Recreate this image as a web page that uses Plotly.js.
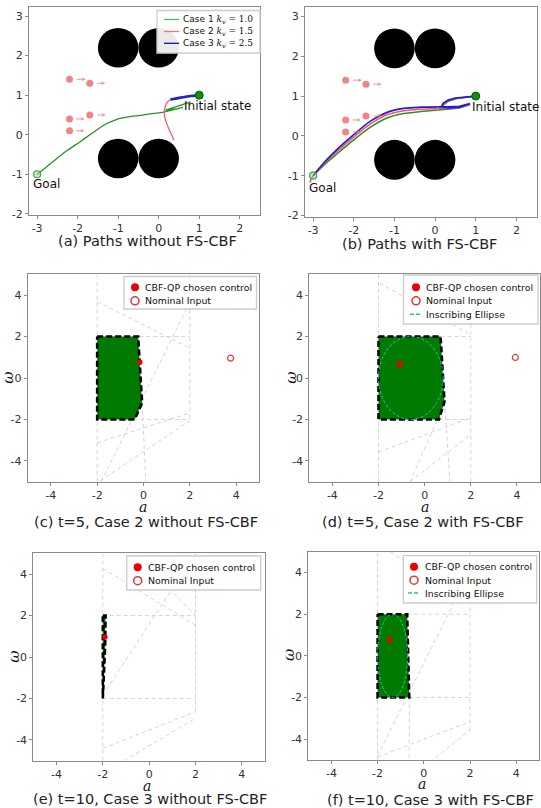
<!DOCTYPE html>
<html><head><meta charset="utf-8">
<script src="https://cdn.plot.ly/plotly-3.0.1.min.js"></script>
<style>html,body{margin:0;padding:0;background:#fff}#chart{width:541px;height:808px}</style>
</head><body><div id="chart"></div>
<script>
// ================= DATA =================
// static obstacles (a),(b)
const obstacleX = [-1, 0, -1, 0];
const obstacleY = [2.2, 2.2, -0.6, -0.6];
const obstacleR = [0.5, 0.5, 0.5, 0.5];
// moving obstacles with velocity arrows
const movingX = [-2.2, -1.7, -2.2, -1.7, -2.2];
const movingY = [1.4, 1.3, 0.4, 0.5, 0.1];
const arrowFromX = [-2.06, -1.56, -2.07, -1.55, -2.07];
const arrowToX = [-1.80, -1.32, -1.83, -1.31, -1.83];
const startX = [1.0], startY = [1.0];
const goalX = [-3.0], goalY = [-1.0];

// (a) paths without FS-CBF  (hook = manoeuvre near start, main = smooth run)
const a1HookX = [0.79, 0.48, 0.17, 0.42, 0.6, 0.38, 0.15];
const a1HookY = [0.83, 0.72, 0.62, 0.65, 0.69, 0.63, 0.58];
const a1MainX = [0.15, 0.0, -0.2, -0.45, -0.75, -1.03, -1.3, -1.6, -1.9, -2.26, -2.55, -2.8, -3.0];
const a1MainY = [0.58, 0.55, 0.53, 0.49, 0.45, 0.39, 0.27, 0.07, -0.15, -0.40, -0.63, -0.84, -1.0];
const a2X = [1.0, 0.8, 0.6, 0.42, 0.3, 0.22, 0.17, 0.14, 0.15, 0.21, 0.28, 0.34, 0.38];
const a2Y = [1.0, 0.99, 0.96, 0.92, 0.89, 0.83, 0.74, 0.6, 0.45, 0.25, 0.08, -0.05, -0.14];
const a3X = [1.0, 0.8, 0.6, 0.45, 0.29];
const a3Y = [1.0, 0.98, 0.95, 0.92, 0.89];

// (b) paths with FS-CBF
const b1HookX = [1.0, 0.75, 0.5, 0.33, 0.22, 0.17, 0.35, 0.6, 0.86, 0.6, 0.3, 0.06];
const b1HookY = [1.0, 0.97, 0.93, 0.87, 0.79, 0.71, 0.68, 0.7, 0.79, 0.7, 0.67, 0.65];
const b1MainX = [0.06, -0.35, -0.77, -1.18, -1.59, -2.0, -2.41, -2.74, -3.0];
const b1MainY = [0.65, 0.61, 0.56, 0.45, 0.22, -0.1, -0.45, -0.74, -1.0];
const b2HookX = [1.0, 0.75, 0.5, 0.32, 0.21, 0.16, 0.35, 0.6, 0.86, 0.6, 0.3, 0.06];
const b2HookY = [1.0, 0.97, 0.94, 0.88, 0.8, 0.72, 0.69, 0.71, 0.8, 0.72, 0.7, 0.69];
const b2MainX = [0.06, -0.35, -0.77, -1.18, -1.59, -2.0, -2.41, -2.74, -3.0, -3.05, -3.08];
const b2MainY = [0.69, 0.67, 0.63, 0.53, 0.3, -0.03, -0.39, -0.71, -1.0, -1.1, -1.17];
const b3HookX = [1.0, 0.75, 0.5, 0.32, 0.2, 0.15, 0.35, 0.6, 0.86, 0.6, 0.3, 0.06];
const b3HookY = [1.0, 0.98, 0.95, 0.9, 0.82, 0.73, 0.7, 0.72, 0.81, 0.74, 0.73, 0.73];
const b3MainX = [0.06, -0.35, -0.77, -1.18, -1.59, -2.0, -2.41, -2.74, -3.0];
const b3MainY = [0.73, 0.72, 0.69, 0.59, 0.37, 0.03, -0.34, -0.68, -1.0];

// (c)-(f) feasible control sets
const cPolyX = [-2, -0.23, -0.06, -0.38, -2, -2];
const cPolyY = [2, 2, -1.2, -2, -2, 2];
const dPolyX = [-2, 0.69, 0.86, 0.62, -2, -2];
const dPolyY = [2, 2, -1.15, -2, -2, 2];
const ePolyX = [-2, -1.88, -1.9, -1.96, -2, -2];
const ePolyY = [2, 2, 0.5, -1.6, -2, 2];
const fPolyX = [-2, -0.72, -0.63, -2, -2];
const fPolyY = [2, 2, -2, -2, 2];

// CBF-QP chosen control & nominal input [a, omega]
const cChosen = [-0.16, 0.76], cNominal = [3.76, 0.96];
const dChosen = [-1.08, 0.66], dNominal = [3.93, 0.99];
const eChosen = [-1.91, 0.97], eNominal = [6.5, 1.0];
const fChosen = [-1.48, 0.77], fNominal = [6.5, 1.0];

// inscribing ellipses: [centerA, centerW, semiA, semiW]
const dEllipse = [-0.6, 0.0, 1.4, 2.0];
const fEllipse = [-1.35, 0.0, 0.65, 2.0];

// constraint lines (segments separated by null)
const cLinesX = [-2, -2, null, 2, 2, null, -2, 2, null, -0.45, 2, null, -2, 2, null, -2, 2, null, -1.88, 2, null, -1.82, 1.84, null, -0.06, 0.1];
const cLinesY = [-5, 5, null, 5, -2.1, null, 2, 2, null, -2, -2, null, 3.68, 1.44, null, -3.13, -1.68, null, -4.96, -2.06, null, -5, 3.3, null, -1.2, -5];
const dLinesX = [-2, -2, null, 2, 2, null, 0.69, 2, null, 0.62, 2, null, -1.94, 2, null, -2, 2, null, 0.86, 1.1, null, -0.63, 0.55, null, -0.63, 2];
const dLinesY = [-5, 5, null, -5, 5, null, 2, 2, null, -2, -2, null, 4.57, 2.07, null, -3.57, -1.92, null, -1.15, -5, null, -5, -2.0, null, -5, -2.72];
const eLinesX = [-2, -2, null, 2, 2, null, -2, 2, null, -2, 2, null, -2, 2, null, -2, 1.0, null, 0.86, 2, null, -2, 2, null, -1.09, 2];
const eLinesY = [-5, 5, null, 5, -2.72, null, 2, 2, null, -2, -2, null, 4.27, 1.53, null, -1.84, 3.3, null, 3.3, 2.0, null, -4.41, -2.64, null, -5, -2.96];
const fLinesX = [-2, -2, null, 2, 2, null, -0.63, -0.63, null, -0.72, 2, null, -0.63, 2, null, -2, 1.6, null, -2, 2, null, 0.28, 2, null, -1.45, 2];
const fLinesY = [-5, 5, null, 5, -3.65, null, -2, -5, null, 2, 2, null, -2, -2, null, -4.8, 3.2, null, -4.85, -3.16, null, -5.1, -3.56, null, 5, 2.55];

// legend labels
const caseNames = ['Case 1', 'Case 2', 'Case 3'];
const caseKv = ['1.0', '1.5', '2.5'];
const ctrlNames = ['CBF-QP chosen control', 'Nominal Input', 'Inscribing Ellipse'];

// ================= STYLE =================
const W = 541, H = 808;
const FONT = 'DejaVu Sans, sans-serif';
const GREEN = 'rgb(40,145,40)', RED = 'rgb(255,80,105)', BLUE = 'rgb(30,30,215)';
const CYAN = 'rgb(30,195,195)';
const MOVCOL = 'rgba(240,110,110,0.85)';
const px2x = p => p / W, px2y = p => 1 - p / H;

function dom(l, r, t, b) { return { x: [px2x(l), px2x(r)], y: [px2y(b), px2y(t)] }; }
const doms = [
  dom(29, 260, 7, 215), dom(305, 536.7, 7.3, 216.7),
  dom(27.7, 259.3, 274.3, 481.7), dom(309.3, 540, 274.3, 481.7),
  dom(33.3, 265, 553.3, 760.7), dom(308.3, 539.3, 551.7, 760)
];

function axis(d, range, ticks, anchor) {
  return {
    domain: d, range: range, tickvals: ticks, ticktext: ticks.map(String),
    showgrid: false, zeroline: false, showline: true, mirror: true,
    linecolor: '#8a8a8a', linewidth: 1, ticks: 'outside', ticklen: 3, tickcolor: '#8a8a8a', tickwidth: 1,
    fixedrange: true, tickfont: { family: FONT, size: 11, color: '#333' }, anchor: anchor
  };
}

const traces = [];
const shapes = [];
const annotations = [];

function line(x, y, xa, ya, color, width, shape) {
  traces.push({ x: x, y: y, xaxis: xa, yaxis: ya, mode: 'lines', showlegend: false, hoverinfo: 'skip',
    line: { color: color, width: width, shape: shape || 'linear', smoothing: 0.8 } });
}

// ---- (a) and (b) ----
[['x', 'y'], ['x2', 'y2']].forEach(ax => {
  for (let i = 0; i < obstacleX.length; i++) {
    shapes.push({ type: 'circle', xref: ax[0], yref: ax[1], layer: 'below',
      x0: obstacleX[i] - obstacleR[i], x1: obstacleX[i] + obstacleR[i],
      y0: obstacleY[i] - obstacleR[i], y1: obstacleY[i] + obstacleR[i],
      fillcolor: '#000', line: { width: 0 } });
  }
  traces.push({ x: movingX, y: movingY, xaxis: ax[0], yaxis: ax[1], mode: 'markers', showlegend: false,
    marker: { color: MOVCOL, size: 7 }, hoverinfo: 'skip' });
  for (let i = 0; i < movingX.length; i++) {
    annotations.push({ xref: ax[0], yref: ax[1], axref: ax[0], ayref: ax[1],
      x: arrowToX[i], y: movingY[i], ax: arrowFromX[i], ay: movingY[i], text: '',
      showarrow: true, arrowhead: 2, arrowsize: 0.7, arrowwidth: 1, arrowcolor: 'rgba(240,110,110,0.7)' });
  }
});
// (a)
line(a1HookX, a1HookY, 'x', 'y', GREEN, 1.3);
line(a1MainX, a1MainY, 'x', 'y', GREEN, 1.3, 'spline');
line(a2X, a2Y, 'x', 'y', RED, 1.2, 'spline');
line(a3X, a3Y, 'x', 'y', BLUE, 2.6, 'spline');
// (b)
line(b1HookX, b1HookY, 'x2', 'y2', GREEN, 1.5);
line(b1MainX, b1MainY, 'x2', 'y2', GREEN, 1.5, 'spline');
line(b2HookX, b2HookY, 'x2', 'y2', RED, 1.5);
line(b2MainX, b2MainY, 'x2', 'y2', RED, 1.5, 'spline');
line(b3HookX, b3HookY, 'x2', 'y2', BLUE, 1.7);
line(b3MainX, b3MainY, 'x2', 'y2', BLUE, 1.7, 'spline');

[['x', 'y'], ['x2', 'y2']].forEach(ax => {
  traces.push({ x: startX, y: startY, xaxis: ax[0], yaxis: ax[1], mode: 'markers', showlegend: false,
    marker: { color: 'rgb(20,140,20)', size: 8, line: { color: 'rgb(0,90,0)', width: 1 } } });
  traces.push({ x: goalX, y: goalY, xaxis: ax[0], yaxis: ax[1], mode: 'markers', showlegend: false,
    marker: { color: 'rgba(150,210,150,0.5)', size: 7, line: { color: 'rgb(70,160,70)', width: 1.2 } } });
});
const txtFont = { family: FONT, size: 12, color: '#111' };
annotations.push({ xref: 'x', yref: 'y', x: 0.58, y: 0.72, text: 'Initial state', showarrow: false, xanchor: 'left', yanchor: 'middle', font: txtFont });
annotations.push({ xref: 'x', yref: 'y', x: -3.15, y: -1.25, text: 'Goal', showarrow: false, xanchor: 'left', yanchor: 'middle', font: txtFont });
annotations.push({ xref: 'x2', yref: 'y2', x: 0.86, y: 0.72, text: 'Initial state', showarrow: false, xanchor: 'left', yanchor: 'middle', font: txtFont });
annotations.push({ xref: 'x2', yref: 'y2', x: -3.15, y: -1.31, text: 'Goal', showarrow: false, xanchor: 'left', yanchor: 'middle', font: txtFont });

// ---- (c)-(f) ----
const ctrlPanels = [
  { xa: 'x3', ya: 'y3', lx: cLinesX, ly: cLinesY, px: cPolyX, py: cPolyY, ch: cChosen, nom: cNominal, ell: null, dot: 5.5 },
  { xa: 'x4', ya: 'y4', lx: dLinesX, ly: dLinesY, px: dPolyX, py: dPolyY, ch: dChosen, nom: dNominal, ell: dEllipse, dot: 6 },
  { xa: 'x5', ya: 'y5', lx: eLinesX, ly: eLinesY, px: ePolyX, py: ePolyY, ch: eChosen, nom: eNominal, ell: null, dot: 5.5 },
  { xa: 'x6', ya: 'y6', lx: fLinesX, ly: fLinesY, px: fPolyX, py: fPolyY, ch: fChosen, nom: fNominal, ell: fEllipse, dot: 5.5 }
];
ctrlPanels.forEach(cp => {
  traces.push({ x: cp.lx, y: cp.ly, xaxis: cp.xa, yaxis: cp.ya, mode: 'lines', showlegend: false,
    line: { color: 'rgba(205,205,205,0.85)', width: 1, dash: '4px,3px' }, hoverinfo: 'skip' });
  traces.push({ x: cp.px, y: cp.py, xaxis: cp.xa, yaxis: cp.ya, mode: 'lines', fill: 'toself',
    fillcolor: 'rgb(0,122,0)', line: { color: '#000', width: 2.6, dash: '6px,3px' }, showlegend: false, hoverinfo: 'skip' });
  if (cp.ell) {
    shapes.push({ type: 'circle', xref: cp.xa, yref: cp.ya, layer: 'above',
      x0: cp.ell[0] - cp.ell[2], x1: cp.ell[0] + cp.ell[2], y0: cp.ell[1] - cp.ell[3], y1: cp.ell[1] + cp.ell[3],
      line: { color: CYAN, width: 1, dash: '3px,2px' } });
  }
  traces.push({ x: [cp.ch[0]], y: [cp.ch[1]], xaxis: cp.xa, yaxis: cp.ya, mode: 'markers', showlegend: false,
    marker: { color: 'rgb(235,0,0)', size: cp.dot } });
  traces.push({ x: [cp.nom[0]], y: [cp.nom[1]], xaxis: cp.xa, yaxis: cp.ya, mode: 'markers', showlegend: false,
    marker: { color: 'rgb(225,60,60)', size: 6, symbol: 'circle-open', line: { width: 1.2 } } });
});

// ---- legends (drawn in pixel positions) ----
function lgBox(l, r, t, b) {
  shapes.push({ type: 'rect', xref: 'paper', yref: 'paper', layer: 'above', x0: px2x(l), x1: px2x(r), y0: px2y(b), y1: px2y(t),
    fillcolor: 'rgba(255,255,255,0.92)', line: { color: '#cccccc', width: 1.3 } });
}
function lgDot(cx, cy, filled) {
  shapes.push({ type: 'circle', xref: 'paper', yref: 'paper', layer: 'above', xsizemode: 'pixel', ysizemode: 'pixel',
    xanchor: px2x(cx), yanchor: px2y(cy), x0: -4, x1: 4, y0: -4, y1: 4,
    fillcolor: filled ? 'rgb(235,0,0)' : 'rgba(255,255,255,0)', line: { color: filled ? 'rgb(235,0,0)' : 'rgb(225,60,60)', width: filled ? 0 : 1.6 } });
}
function lgLine(x0, x1, y, color, width, dash) {
  shapes.push({ type: 'line', xref: 'paper', yref: 'paper', layer: 'above', x0: px2x(x0), x1: px2x(x1), y0: px2y(y), y1: px2y(y),
    line: { color: color, width: width, dash: dash || 'solid' } });
}
function lgText(x, y, text, size) {
  annotations.push({ xref: 'paper', yref: 'paper', x: px2x(x), y: px2y(y), text: text, showarrow: false,
    xanchor: 'left', yanchor: 'middle', font: { family: FONT, size: size, color: '#111' } });
}
// (a) legend
lgBox(157, 260, 10.5, 53);
const caseCols = ['rgb(90,180,90)', 'rgb(255,110,125)', 'rgb(20,20,160)'];
const caseRows = [19.5, 31.5, 43.3];
caseNames.forEach((n, i) => {
  lgLine(164, 179, caseRows[i], caseCols[i], 1.3);
  lgText(181, caseRows[i], n + ' <span style="font-family:DejaVu Serif"><i>k<sub>v</sub></i> = ' + caseKv[i] + '</span>', 9);
});
// control legends
function ctrlLegend(box, mx, tx, rows, withEllipse) {
  lgBox(box[0], box[1], box[2], box[3]);
  lgDot(mx, rows[0], true); lgText(tx, rows[0], ctrlNames[0], 9.4);
  lgDot(mx, rows[1], false); lgText(tx, rows[1], ctrlNames[1], 9.4);
  if (withEllipse) { lgLine(mx - 6, mx + 5, rows[2], CYAN, 1.6, '4px,2px'); lgText(tx, rows[2], ctrlNames[2], 9.4); }
}
ctrlLegend([124, 256.5, 276.5, 309], 135, 143, [287.3, 300.8], false);
ctrlLegend([403.5, 538, 275, 324], 416, 424, [287.3, 300.8, 314.3], true);
ctrlLegend([126.7, 260.7, 556, 590], 137.7, 146, [567.3, 580.7], false);
ctrlLegend([403.3, 536.7, 555.7, 603], 414, 423, [566.7, 580.2, 593], true);

// axis titles (a, ω)
const alabels = [[143, 507], [425, 507], [146.7, 785.5], [421.7, 784]];
const wlabels = [[8, 377.7], [291, 377.7], [14, 656.7], [289, 655]];
alabels.forEach(p => annotations.push({ xref: 'paper', yref: 'paper', x: px2x(p[0]), y: px2y(p[1]), text: '<i>a</i>', showarrow: false,
  xanchor: 'center', yanchor: 'middle', font: { family: 'DejaVu Serif, serif', size: 14, color: '#111' } }));
wlabels.forEach(p => annotations.push({ xref: 'paper', yref: 'paper', x: px2x(p[0]), y: px2y(p[1]), text: '<i>ω</i>', showarrow: false, textangle: -90,
  xanchor: 'center', yanchor: 'middle', font: { family: 'DejaVu Serif, serif', size: 15, color: '#111' } }));

// captions
const captions = [
  ['(a) Paths without FS-CBF', 147, 241], ['(b) Paths with FS-CBF', 420, 244],
  ['(c) t=5, Case 2 without FS-CBF', 146, 522], ['(d) t=5, Case 2 with FS-CBF', 423, 522],
  ['(e) t=10, Case 3 without FS-CBF', 150, 798.5], ['(f) t=10, Case 3 with FS-CBF', 430, 800]
];
captions.forEach(c => annotations.push({ xref: 'paper', yref: 'paper', x: px2x(c[1]), y: px2y(c[2]), text: c[0], showarrow: false,
  xanchor: 'center', yanchor: 'middle', font: { family: FONT, size: 14.5, color: '#222' } }));

const tA = [-3, -2, -1, 0, 1, 2], tAy = [-2, -1, 0, 1, 2, 3], tC = [-4, -2, 0, 2, 4];
const layout = {
  width: W, height: H, margin: { l: 0, r: 0, t: 0, b: 0 }, paper_bgcolor: '#fff', plot_bgcolor: '#fff',
  showlegend: false, font: { family: FONT },
  xaxis: axis(doms[0].x, [-3.2, 2.5], tA, 'y'), yaxis: axis(doms[0].y, [-2.03, 3.23], tAy, 'x'),
  xaxis2: axis(doms[1].x, [-3.2, 2.5], tA, 'y2'), yaxis2: axis(doms[1].y, [-2.03, 3.23], tAy, 'x2'),
  xaxis3: axis(doms[2].x, [-5, 5], tC, 'y3'), yaxis3: axis(doms[2].y, [-5, 5], tC, 'x3'),
  xaxis4: axis(doms[3].x, [-5, 5], tC, 'y4'), yaxis4: axis(doms[3].y, [-5, 5], tC, 'x4'),
  xaxis5: axis(doms[4].x, [-5, 5], tC, 'y5'), yaxis5: axis(doms[4].y, [-5, 5], tC, 'x5'),
  xaxis6: axis(doms[5].x, [-5, 5], tC, 'y6'), yaxis6: axis(doms[5].y, [-5, 5], tC, 'x6'),
  shapes: shapes, annotations: annotations
};
Plotly.newPlot('chart', traces, layout, { staticPlot: true, displayModeBar: false });
</script></body></html>
